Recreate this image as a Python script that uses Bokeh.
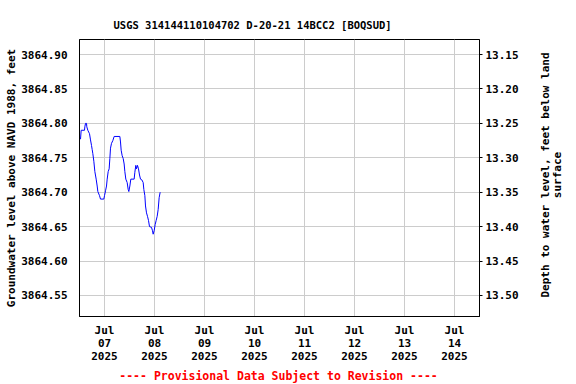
import math
import pandas as pd
from bokeh.plotting import figure
from bokeh.models import (Range1d, LinearAxis, DatetimeTickFormatter, DaysTicker,
                          SingleIntervalTicker, NumeralTickFormatter, Label)
from bokeh.embed import file_html
from bokeh.resources import INLINE

# ---- data ----
times = [
    "2025-07-06 12:29", "2025-07-06 12:48", "2025-07-06 14:24", "2025-07-06 14:34",
    "2025-07-06 14:53", "2025-07-06 15:22", "2025-07-06 15:31", "2025-07-06 16:00",
    "2025-07-06 16:48", "2025-07-06 17:17", "2025-07-06 17:46", "2025-07-06 18:05",
    "2025-07-06 18:24", "2025-07-06 18:53", "2025-07-06 19:22", "2025-07-06 20:00",
    "2025-07-06 20:29", "2025-07-06 20:48", "2025-07-06 21:36", "2025-07-06 22:05",
    "2025-07-06 23:41", "2025-07-07 00:00", "2025-07-07 00:29", "2025-07-07 00:58",
    "2025-07-07 01:17", "2025-07-07 01:46", "2025-07-07 02:14", "2025-07-07 02:34",
    "2025-07-07 02:53", "2025-07-07 03:22", "2025-07-07 04:00", "2025-07-07 04:38",
    "2025-07-07 07:22", "2025-07-07 07:41", "2025-07-07 08:00", "2025-07-07 08:29",
    "2025-07-07 08:58", "2025-07-07 09:26", "2025-07-07 09:46", "2025-07-07 10:14",
    "2025-07-07 10:53", "2025-07-07 11:22", "2025-07-07 11:41", "2025-07-07 12:10",
    "2025-07-07 12:38", "2025-07-07 14:14", "2025-07-07 14:34", "2025-07-07 15:02",
    "2025-07-07 15:22", "2025-07-07 15:50", "2025-07-07 16:19", "2025-07-07 16:48",
    "2025-07-07 17:17", "2025-07-07 17:55", "2025-07-07 18:34", "2025-07-07 18:53",
    "2025-07-07 19:22", "2025-07-07 19:41", "2025-07-07 20:10", "2025-07-07 20:38",
    "2025-07-07 21:07", "2025-07-07 21:36", "2025-07-07 22:34", "2025-07-07 23:02",
    "2025-07-07 23:22", "2025-07-07 23:50", "2025-07-08 00:19", "2025-07-08 00:48",
    "2025-07-08 01:17", "2025-07-08 01:46", "2025-07-08 02:14", "2025-07-08 02:43",
]
levels = [
    3864.777, 3864.790, 3864.790, 3864.795, 3864.800, 3864.800, 3864.795, 3864.790,
    3864.785, 3864.776, 3864.768, 3864.762, 3864.756, 3864.745, 3864.730, 3864.719,
    3864.709, 3864.701, 3864.695, 3864.690, 3864.690, 3864.695, 3864.702, 3864.709,
    3864.719, 3864.730, 3864.734, 3864.749, 3864.764, 3864.771, 3864.775, 3864.781,
    3864.781, 3864.773, 3864.761, 3864.753, 3864.749, 3864.741, 3864.730, 3864.719,
    3864.714, 3864.704, 3864.701, 3864.709, 3864.719, 3864.719, 3864.729, 3864.739,
    3864.734, 3864.739, 3864.734, 3864.725, 3864.719, 3864.718, 3864.714, 3864.704,
    3864.695, 3864.680, 3864.670, 3864.665, 3864.659, 3864.650, 3864.649, 3864.644,
    3864.639, 3864.644, 3864.653, 3864.659, 3864.665, 3864.675, 3864.692, 3864.700,
]
land_surface = 3878.05
x_start, x_end = "2025-07-06 12:00", "2025-07-14 12:00"
y_start, y_end = 3864.5194, 3864.9219

title_text = "USGS 314144110104702 D-20-21 14BCC2 [BOQSUD]"
left_label = "Groundwater level above NAVD 1988, feet"
right_label_1 = "Depth to water level, feet below land"
right_label_2 = "surface"
footer_text = "---- Provisional Data Subject to Revision ----"

FONT = "DejaVu Sans Mono"

t = pd.to_datetime(times)

p = figure(width=576, height=384, output_backend="svg", toolbar_location=None,
           x_axis_type="datetime",
           x_range=Range1d(pd.Timestamp(x_start), pd.Timestamp(x_end)),
           y_range=Range1d(y_start, y_end),
           min_border_left=79, min_border_right=97, min_border_top=39,
           min_border_bottom=68)

p.line(t, levels, line_color="#0000ff", line_width=1)

p.extra_y_ranges = {"depth": Range1d(land_surface - y_start, land_surface - y_end)}
raxis = LinearAxis(y_range_name="depth")
p.add_layout(raxis, "right")

# grids
p.xgrid.grid_line_color = "#cccccc"
p.ygrid.grid_line_color = "#cccccc"
p.xgrid.ticker = DaysTicker(days=list(range(1, 32)))
p.ygrid.ticker = SingleIntervalTicker(interval=0.05)
p.outline_line_color = "black"
p.outline_line_width = 1

ly = p.yaxis[0]
ly.ticker = SingleIntervalTicker(interval=0.05)
ly.formatter = NumeralTickFormatter(format="0.00")

raxis.ticker = SingleIntervalTicker(interval=0.05)
raxis.formatter = NumeralTickFormatter(format="0.00")

xa = p.xaxis[0]
xa.ticker = DaysTicker(days=list(range(1, 32)))
xa.formatter = DatetimeTickFormatter(days="%b\n%d\n%Y", months="%b\n%d\n%Y",
                                     hours="%b\n%d\n%Y")

for ax in (ly, raxis, xa):
    ax.major_label_text_font = FONT
    ax.major_label_text_font_style = "bold"
    ax.major_label_text_font_size = "11px"
    ax.major_label_text_color = "black"
    ax.minor_tick_line_color = None
    ax.major_tick_in = 0
    ax.axis_line_color = "black"

ly.major_tick_out = 0
ly.major_label_standoff = 8
raxis.major_tick_out = 3
raxis.major_label_standoff = 2
xa.major_tick_out = 0
xa.major_label_standoff = 7
xa.major_label_text_line_height = 1.0

# title, axis titles and footer placed in the border panels
common = dict(x_units="canvas", y_units="canvas", text_font=FONT,
              text_font_style="bold", text_font_size="11px", text_color="black")
vert = dict(angle=math.pi / 2, text_align="center", text_baseline="middle")
p.add_layout(Label(x=113, y=24, text=title_text, text_align="left",
                   text_baseline="alphabetic",
                   **{**common, "text_font_size": "10.5px"}), "above")
p.add_layout(Label(x=11, y=177.5, text=left_label, **vert, **common), "left")
p.add_layout(Label(x=545, y=174.5, text=right_label_1, **vert, **common), "right")
p.add_layout(Label(x=557, y=174.5, text=right_label_2, **vert, **common), "right")
p.add_layout(Label(x=278, y=375, text=footer_text, text_align="center",
                   text_baseline="alphabetic",
                   **{**common, "text_font_size": "11.5px", "text_color": "#ff0000"}),
             "below")

open("out.html", "w").write(file_html(p, INLINE))
